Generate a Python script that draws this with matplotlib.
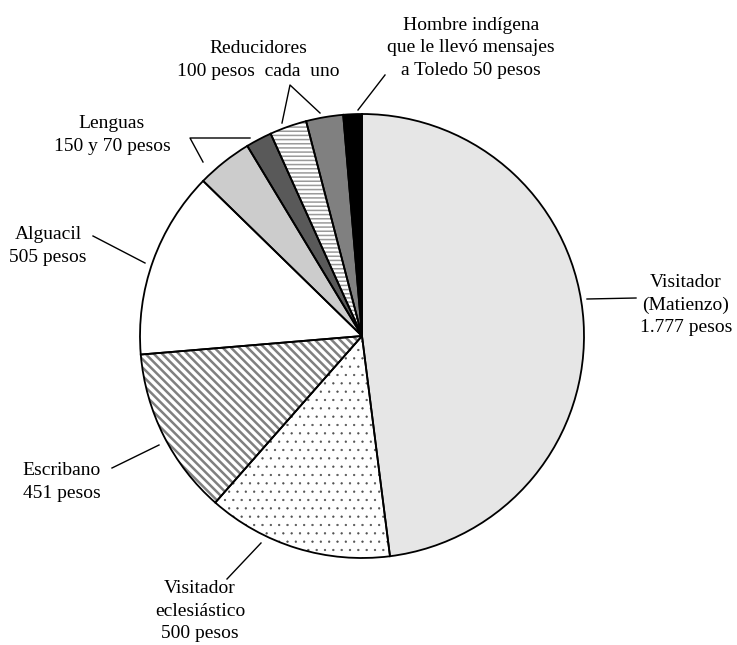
import matplotlib

matplotlib.use('Agg')
import numpy as np
import matplotlib.pyplot as plt

# Data
labels = ['Visitador (Matienzo)', 'Visitador eclesiástico', 'Escribano', 'Alguacil',
          'Lenguas 150', 'Lenguas 70', 'Reducidor 1', 'Reducidor 2', 'Hombre indígena']
values = [1777, 500, 451, 505, 150, 70, 100, 100, 50]
fills = ['#e6e6e6', 'white', 'white', 'white', '#cccccc', '#595959', 'white', '#808080', 'black']
hatches = [None, '..', '\\\\\\\\', None, None, None, '----', None, None]
hatch_colors = [None, '#505050', '#808080', None, None, None, '#9a9a9a', None, None]
hatch_lw = [0, 0.4, 1.8, 0, 0, 0, 1.1, 0, 0]

label_texts = ['Visitador\n(Matienzo)\n1.777 pesos',
               'Visitador\neclesiástico\n500 pesos',
               'Escribano\n451 pesos',
               'Alguacil\n505 pesos',
               'Lenguas\n150 y 70 pesos',
               'Reducidores\n100 pesos  cada  uno',
               'Hombre indígena\nque le llevó mensajes\na Toledo 50 pesos']

W, H = 737, 645
plt.rcParams['font.family'] = ['Liberation Serif', 'DejaVu Serif']

fig = plt.figure(figsize=(W / 100, H / 100), dpi=100)
ax = fig.add_axes([0, 0, 1, 1])

cx, cy, r = 362, 336, 222

# hatched fill layer (hatch colour comes from the edge colour)
wedges, _ = ax.pie(values, colors=fills, startangle=90, counterclock=False,
                   center=(cx, H - cy), radius=r,
                   wedgeprops=dict(linewidth=0))
for w, h, hc, lw in zip(wedges, hatches, hatch_colors, hatch_lw):
    if h:
        w.set_edgecolor(hc)
        w.set_hatch(h)
        if hasattr(w, 'set_hatch_linewidth'):
            w.set_hatch_linewidth(lw)

# black outlines on top
ax.pie(values, colors=fills, startangle=90, counterclock=False,
       center=(cx, H - cy), radius=r,
       wedgeprops=dict(edgecolor='black', linewidth=1.3, fill=False))

ax.set_xlim(0, W)
ax.set_ylim(0, H)
ax.set_aspect('equal')
ax.axis('off')

# label positions (pixel coords, y from top)
text_pos = [(686, 305), (200, 611), (62, 482), (48, 246), (112, 135), (258, 60), (471, 48)]
for t, (x, y) in zip(label_texts, text_pos):
    ax.text(x, H - y, t, ha='center', va='center', fontsize=14, linespacing=1.4)

# leader lines
leaders = [
    [(587, 299), (636, 298)],
    [(227, 579), (261, 543)],
    [(112, 468), (159, 445)],
    [(93, 236), (145, 263)],
    [(203, 162), (190, 138), (250, 138)],
    [(282, 123), (290, 85), (320, 113)],
    [(385, 75), (358, 110)],
]
for pts in leaders:
    xs = [p[0] for p in pts]
    ys = [H - p[1] for p in pts]
    ax.plot(xs, ys, color='black', linewidth=1.0)

fig.savefig('out.png', dpi=100)
